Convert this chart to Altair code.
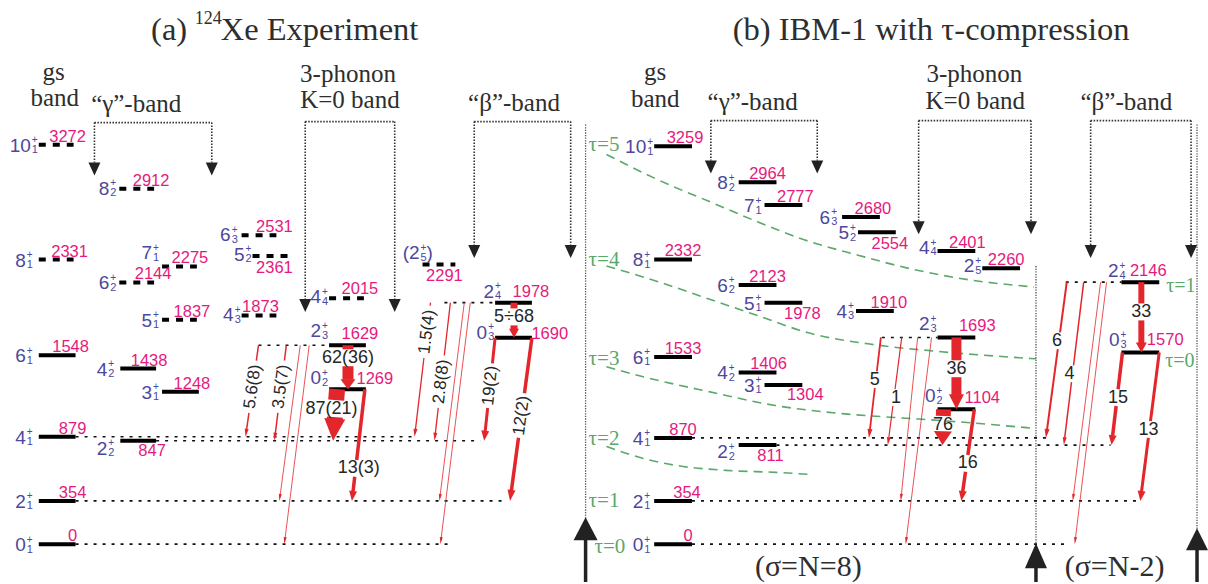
import math
import altair as alt
import pandas as pd

W, H = 1208, 584

# ---------------- level energies (keV) ----------------
level_keys = ["0_1", "2_1", "4_1", "6_1", "8_1", "10_1",
              "2_2", "3_1", "4_2", "5_1", "6_2", "7_1", "8_2",
              "4_3", "5_2", "6_3", "4_4", "2_5",
              "0_2", "2_3", "0_3", "2_4"]
exp_energy = [0, 354, 879, 1548, 2331, 3272,
              847, 1248, 1438, 1837, 2144, 2275, 2912,
              1873, 2361, 2531, 2015, 2291,
              1269, 1629, 1690, 1978]
ibm_energy = [0, 354, 870, 1533, 2332, 3259,
              811, 1304, 1406, 1978, 2123, 2777, 2964,
              1910, 2554, 2680, 2401, 2260,
              1104, 1693, 1570, 2146]
# tentative experimental levels (drawn dashed)
exp_tentative = ["8_1", "10_1", "5_1", "6_2", "7_1", "8_2", "4_3", "5_2", "6_3", "4_4", "2_5"]
exp_bracketed = ["2_5"]

# ---------------- E2 transitions and relative B(E2) values ----------------
trans_from = ["2_3", "0_2", "0_2", "2_3", "2_3", "2_3", "2_3",
              "2_4", "2_4", "2_4", "2_4", "2_4", "0_3", "0_3"]
trans_to = ["0_2", "2_2", "2_1", "4_1", "2_2", "2_1", "0_1",
            "4_1", "2_2", "2_1", "0_1", "0_3", "2_2", "2_1"]
exp_be2 = ["62(36)", "87(21)", "13(3)", "5.6(8)", "3.5(7)", "", "",
           "1.5(4)", "2.8(8)", "", "", "5÷68", "19(2)", "12(2)"]
ibm_be2 = ["36", "76", "16", "5", "1", "", "",
           "6", "4", "", "", "33", "15", "13"]

# ---------------- tau boundaries in the IBM panel (keV) ----------------
tau_names = ["5", "4", "3", "2"]
tau_x = [[610, 663, 713, 763, 813, 863, 913, 963, 1040],
         [610, 663, 713, 763, 813, 880, 947, 1042],
         [610, 647, 713, 780, 847, 900, 947, 1042],
         [610, 647, 680, 730, 780, 815]]
tau_E = [[3192, 2980, 2808, 2637, 2482, 2367, 2261, 2180, 2106],
         [2278, 2147, 2008, 1869, 1731, 1633, 1576, 1518],
         [1453, 1371, 1249, 1135, 1069, 1037, 1012, 947],
         [800, 702, 645, 604, 588, 571]]

# ---------------- layout ----------------
Y0, KPX = 546.0, 0.1225          # pixel row of 0 keV, pixels per keV


def py_of(e):
    return Y0 - KPX * e


def e_of(py):
    return (Y0 - py) / KPX


FS = "Liberation Sans"
FR = "Liberation Serif"
RED = "#e3262b"
BLUE = "#4d479e"
MAG = "#e6197d"
GREEN = "#5aa96b"
INK = "#262626"

# bar start / length, spin-label offset (from bar start), energy-label offset (from bar end)
exp_bar = {"0_1": (39, 37), "2_1": (39, 37), "4_1": (39, 37), "6_1": (39, 37), "8_1": (39, 35),
           "10_1": (39, 35), "2_2": (121, 36), "3_1": (163, 37), "4_2": (121, 36), "5_1": (163, 35),
           "6_2": (120, 35), "7_1": (163, 35), "8_2": (120, 35), "4_3": (243, 35), "5_2": (254, 36),
           "6_3": (243, 35), "4_4": (331, 35), "2_5": (425, 33), "0_2": (331, 37), "2_3": (331, 37),
           "0_3": (498, 37), "2_4": (498, 37)}
exp_spin = {"0_1": (-13, 7), "2_1": (-13, 7), "4_1": (-13, 7), "6_1": (-13, 7), "8_1": (-13, 7),
            "10_1": (-8, 7), "2_2": (-13, 14), "3_1": (-10, 7), "4_2": (-13, 7), "5_1": (-10, 7),
            "6_2": (-10, 7), "7_1": (-10, -7), "8_2": (-10, 6), "4_3": (-8, 6), "5_2": (-8, 5),
            "6_3": (-11, 6), "4_4": (-8, 5), "2_5": (-3, -5), "0_2": (-8, -5), "2_3": (-8, -8),
            "0_3": (-8, 1), "2_4": (-1, -5)}
exp_elab = {"0_1": (-3, -3), "2_1": (-3, -3), "4_1": (-3, -3), "6_1": (-5, -3), "8_1": (-4, -3),
            "10_1": (-6, -3), "2_2": (-4, 15), "3_1": (-7, -3), "4_2": (-7, -3), "5_1": (-5, -3),
            "6_2": (-1, -3), "7_1": (-7, -3), "8_2": (-3, -3), "4_3": (-16, -3), "5_2": (-14, 17),
            "6_3": (-2, -3), "4_4": (-4, -4), "2_5": (-11, 17), "0_2": (9, -5), "2_3": (-6, -6),
            "0_3": (18, 1), "2_4": (-1, -6)}

ibm_bar = {k: (x, 38) for k, x in {
    "0_1": 658, "2_1": 658, "4_1": 658, "6_1": 658, "8_1": 658, "10_1": 658,
    "2_2": 743, "3_1": 769, "4_2": 743, "5_1": 769, "6_2": 743, "7_1": 769, "8_2": 743,
    "4_3": 861, "5_2": 863, "6_3": 847, "4_4": 943, "2_5": 988,
    "0_2": 943, "2_3": 943, "0_3": 1128, "2_4": 1128}.items()}
ibm_spin = {"0_1": (-11, 7), "2_1": (-11, 7), "4_1": (-11, 7), "6_1": (-11, 7), "8_1": (-11, 7),
            "10_1": (-8, 7), "2_2": (-11, 13), "3_1": (-10, 7), "4_2": (-11, 7), "5_1": (-10, 7),
            "6_2": (-11, 7), "7_1": (-10, 7), "8_2": (-11, 7), "4_3": (-9, 7), "5_2": (-9, 7),
            "6_3": (-12, 7), "4_4": (-8, 3), "2_5": (-8, 4), "0_2": (-2, -7), "2_3": (-8, -7),
            "0_3": (-2, -6), "2_4": (-3, -5)}
ibm_elab = {"0_1": (-4, -3), "2_1": (-5, -3), "4_1": (-9, -3), "6_1": (-9, -3), "8_1": (-9, -3),
            "10_1": (-7, -3), "2_2": (-6, 16), "3_1": (3, 15), "4_2": (-8, -3), "5_1": (0, 16),
            "6_2": (-9, -3), "7_1": (-7, -3), "8_2": (-9, -3), "4_3": (-5, -3), "5_2": (-6, 17),
            "6_3": (-7, -3), "4_4": (-8, -3), "2_5": (-14, -3), "0_2": (7, -6), "2_3": (2, -6),
            "0_3": (6, -7), "2_4": (-11, -6)}

# dotted continuations of the lower levels: (level, x from, x to)
exp_ext = [("0_1", 76, 455), ("2_1", 76, 510), ("4_1", 76, 420), ("2_2", 157, 483),
           ("2_3", 260, 331), ("2_4", 447, 498)]
ibm_ext = [("0_1", 696, 1075), ("2_1", 696, 1143), ("4_1", 696, 1053), ("2_2", 781, 1117),
           ("2_3", 887, 943), ("2_4", 1072, 1128)]

# transition geometry: start x, end x, shaft width, head (length, width), label row, label dx, rotated
exp_tx = dict(x0=[350, 339, 367, 260, 288, 302, 311, 433, 453, 467, 473, 517, 498, 535],
              x1=[350, 335, 354, 247, 276, 281, 286, 417, 437, 442, 443, 517, 487, 513],
              w=[11, 16, 3.5, 1.5, 1.5, 0.8, 0.8, 1.3, 1.3, 0.8, 0.8, 7, 3, 3.5],
              head=[(10, 15), (22, 21), (10, 8), (8, 4), (8, 4), (7, 3), (7, 3), (8, 4), (8, 4),
                    (7, 3), (7, 3), (9, 10), (10, 8), (11, 8)],
              ly=[359, 410, 470, 388, 388, None, None, 333, 383, None, None, 318, 387, 417],
              ldx=[0, -4, 3, 0, 0, 0, 0, 0, 0, 0, 0, 0, 0, 0],
              rot=[False, False, False, True, True, False, False, True, True, False, False,
                   False, True, True])
ibm_tx = dict(x0=[962, 949, 980, 886, 907, 923, 937, 1073, 1090, 1107, 1113, 1148, 1129, 1166],
              x1=[962, 948, 967, 874, 893, 906, 911, 1052, 1070, 1079, 1081, 1148, 1118, 1147],
              w=[10, 15, 3.5, 1.8, 1.2, 0.8, 0.8, 2, 1.5, 0.8, 0.8, 6, 3.5, 3],
              head=[(15, 15), (14, 18), (10, 8), (9, 5), (8, 4), (7, 3), (7, 3), (9, 5), (8, 4),
                    (7, 3), (7, 3), (10, 11), (10, 8), (10, 8)],
              ly=[370, 426, 465, 381, 399, None, None, 342, 375, None, None, 313, 399, 431],
              ldx=[0, 0, 1, -1, 2, 0, 0, -2, -3, 0, 0, 0, 1, -1],
              rot=[False] * 14)


def head_path(length, width):
    return f"M{-width / 2:.2f},{-length:.2f}L{width / 2:.2f},{-length:.2f}L0,0Z"


# ---------------- build tables ----------------
lvl_rows, ext_rows, spin_rows, elab_rows = [], [], [], []
for energy, bar, spin, elab, tent, brk, ext in [
        (exp_energy, exp_bar, exp_spin, exp_elab, exp_tentative, exp_bracketed, exp_ext),
        (ibm_energy, ibm_bar, ibm_spin, ibm_elab, [], [], ibm_ext)]:
    E = dict(zip(level_keys, energy))
    for k in level_keys:
        x0, ln = bar[k]
        py = py_of(E[k])
        J, idx = k.split("_")
        lvl_rows.append(dict(x=x0, x2=x0 + ln, y=E[k], y2=E[k],
                             style="dash" if k in tent else "solid"))
        sdx, sdy = spin[k]
        sx, sb = x0 + sdx, py + sdy
        spin_rows.append(dict(x=sx, y=e_of(sb), main=("(" + J) if k in brk else J,
                              xs=sx + 1, ysub=e_of(sb + 1.5), ysup=e_of(sb - 8.5),
                              sub=idx, sup="+", xc=sx + 7, close=")" if k in brk else ""))
        edx, edy = elab[k]
        elab_rows.append(dict(x=x0 + ln + edx, y=e_of(py + edy), t=str(E[k])))
    for k, a, b in ext:
        ext_rows.append(dict(x=a, x2=b, y=E[k], y2=E[k]))

shaft_rows, tip_rows, hlab_rows, rlab_rows = [], [], [], []
for energy, tx, labels in [(exp_energy, exp_tx, exp_be2), (ibm_energy, ibm_tx, ibm_be2)]:
    E = dict(zip(level_keys, energy))
    for i in range(len(trans_from)):
        xa, xb = tx["x0"][i], tx["x1"][i]
        ya, yb = py_of(E[trans_from[i]]), py_of(E[trans_to[i]])
        dx, dy = xb - xa, yb - ya
        L = math.hypot(dx, dy)
        ux, uy = dx / L, dy / L
        hl, hw = tx["head"][i]
        s_end = L - hl + 0.5
        pieces = [(0.0, s_end)]
        if labels[i]:
            t = (tx["ly"][i] - ya) / dy
            sc = t * L
            fs = 17 if tx["rot"][i] else 18
            g = (0.23 * fs * len(labels[i]) + 3) if tx["rot"][i] else 8.5
            pieces = [(0.0, min(sc - g, s_end)), (sc + g, s_end)]
            row = dict(x=xa + t * dx + tx["ldx"][i], y=e_of(tx["ly"][i]), t=labels[i],
                       ang=math.degrees(math.atan2(-uy, -ux)) % 360)
            (rlab_rows if tx["rot"][i] else hlab_rows).append(row)
        for a, b in pieces:
            if b - a > 0.5:
                shaft_rows.append(dict(x=xa + ux * a, y=e_of(ya + uy * a),
                                       x2=xa + ux * b, y2=e_of(ya + uy * b), w=tx["w"][i]))
        tip_rows.append(dict(x=xb, y=E[trans_to[i]], path=head_path(hl, hw),
                             ang=math.degrees(math.atan2(-ux, uy)) % 360, col=RED))

tau_rows = []
for name, xs_, es_ in zip(tau_names, tau_x, tau_E):
    for j, (xv, ev) in enumerate(zip(xs_, es_)):
        tau_rows.append(dict(c=name, i=j, x=xv, y=ev))

# band brackets: top y, left x, right x, arrow tip y
brackets = [(123, 95, 213, 176), (122, 307, 397, 313), (122, 477, 574, 259),
            (121, 715, 822, 174), (121, 924, 1037, 235), (121, 1097, 1198, 259)]
brk_rows = []
for top, xl, xr, tip in brackets:
    base = tip - 13
    brk_rows += [dict(x=xl, y=e_of(top), x2=xr, y2=e_of(top)),
                 dict(x=xl, y=e_of(top), x2=xl, y2=e_of(base)),
                 dict(x=xr, y=e_of(top), x2=xr, y2=e_of(base))]
    for xv in (xl, xr):
        tip_rows.append(dict(x=xv, y=e_of(tip), path=head_path(13, 12), ang=0, col="#222222"))

# sigma frames of the IBM panel: x, top of dotted line, arrow tip, head length, head width
frames = [(589, 125, 519, 23, 24), (1042, 267, 545, 25, 22), (1204, 125, 530, 22, 22)]
frame_rows, post_rows = [], []
for xv, top, tip, hl, hw in frames:
    frame_rows.append(dict(x=xv, y=e_of(top), x2=xv, y2=e_of(tip + 4)))
    post_rows.append(dict(x=xv, y=e_of(tip + hl - 1), x2=xv, y2=e_of(H)))
    tip_rows.append(dict(x=xv, y=e_of(tip), path=head_path(hl, hw), ang=180, col="#222222"))

# ---------------- text annotations (pixel placement) ----------------
headers = [("gs", 54, 80), ("band", 55, 106), ("“γ”-band", 137, 112), ("3-phonon", 350, 82),
           ("K=0 band", 352, 108), ("“β”-band", 517, 111),
           ("gs", 659, 80), ("band", 659, 107), ("“γ”-band", 757, 110), ("3-phonon", 980, 82),
           ("K=0 band", 981, 109), ("“β”-band", 1133, 110)]
tau_left = [("τ=5", 623, 152), ("τ=4", 623, 267), ("τ=3", 623, 366), ("τ=2", 623, 447),
            ("τ=1", 623, 509), ("τ=0", 629, 555)]
tau_right = [("τ=1", 1173, 293), ("τ=0", 1172, 368)]
sigma_lbl = [("(σ=N=8)", 813, 578), ("(σ=N-2)", 1121, 578)]

xs = alt.Scale(domain=[0, W], nice=False, zero=False)
ys = alt.Scale(domain=[e_of(H), e_of(0)], nice=False, zero=False)


def X(f="x"):
    return alt.X(f"{f}:Q", scale=xs, axis=None)


def Y(f="y"):
    return alt.Y(f"{f}:Q", scale=ys, axis=None)


def seg_layer(rows, **mark):
    return alt.Chart(pd.DataFrame(rows)).mark_rule(**mark).encode(
        x=X(), y=Y(), x2=alt.X2("x2:Q"), y2=alt.Y2("y2:Q"))


def text_layer(rows, xf="x", yf="y", tf="t", **mark):
    return alt.Chart(pd.DataFrame(rows)).mark_text(**mark).encode(
        x=X(xf), y=Y(yf), text=alt.Text(f"{tf}:N"))


def pix_text(items, **mark):
    rows = [dict(t=t, x=x, y=e_of(y)) for t, x, y in items]
    return text_layer(rows, baseline="alphabetic", **mark)


layers = []

# tau boundaries
layers.append(alt.Chart(pd.DataFrame(tau_rows)).mark_line(
    color=GREEN, strokeWidth=1.6, strokeDash=[9, 6], interpolate="monotone").encode(
    x=X(), y=Y(), detail="c:N", order="i:Q"))

# frames and brackets
layers.append(seg_layer(frame_rows, color="#555555", strokeWidth=1.3, strokeDash=[1.3, 1.3]))
layers.append(seg_layer(post_rows, color="#222222", strokeWidth=3.5))
layers.append(seg_layer(brk_rows, color="#333333", strokeWidth=1.6, strokeDash=[1.5, 1.5]))

# levels
layers.append(seg_layer(ext_rows, color="#111111", strokeWidth=1.6, strokeDash=[3, 6]))
layers.append(seg_layer([r for r in lvl_rows if r["style"] == "solid"],
                        color="#000000", strokeWidth=4))
layers.append(seg_layer([r for r in lvl_rows if r["style"] == "dash"],
                        color="#000000", strokeWidth=4, strokeDash=[7, 7]))

# transitions
layers.append(alt.Chart(pd.DataFrame(shaft_rows)).mark_rule(color=RED).encode(
    x=X(), y=Y(), x2=alt.X2("x2:Q"), y2=alt.Y2("y2:Q"),
    strokeWidth=alt.StrokeWidth("w:Q", scale=None)))
layers.append(alt.Chart(pd.DataFrame(tip_rows)).mark_point(
    filled=True, opacity=1, strokeWidth=0, size=4).encode(
    x=X(), y=Y(), shape=alt.Shape("path:N", scale=None),
    angle=alt.Angle("ang:Q", scale=None), color=alt.Color("col:N", scale=None)))

# level labels
layers.append(text_layer(spin_rows, tf="main", font=FS, fontSize=19, color=BLUE,
                         align="right", baseline="alphabetic"))
layers.append(text_layer(spin_rows, xf="xs", yf="ysub", tf="sub", font=FS, fontSize=11,
                         color=BLUE, align="left", baseline="alphabetic"))
layers.append(text_layer(spin_rows, xf="xs", yf="ysup", tf="sup", font=FS, fontSize=10,
                         color=BLUE, align="left", baseline="alphabetic"))
layers.append(text_layer([r for r in spin_rows if r["close"]], xf="xc", tf="close", font=FS,
                         fontSize=19, color=BLUE, align="left", baseline="alphabetic"))
layers.append(text_layer(elab_rows, font=FS, fontSize=16.5, color=MAG, align="center",
                         baseline="alphabetic"))

# B(E2) labels
layers.append(text_layer(hlab_rows, font=FS, fontSize=18, color=INK, align="center",
                         baseline="middle"))
layers.append(alt.Chart(pd.DataFrame(rlab_rows)).mark_text(
    font=FS, fontSize=17, color=INK, align="center", baseline="middle").encode(
    x=X(), y=Y(), text="t:N", angle=alt.Angle("ang:Q", scale=None)))

# headers, titles, tau and sigma labels
layers.append(pix_text(headers, font=FR, fontSize=25, color="#2e2e2e", align="center"))
layers.append(pix_text(tau_left, font=FR, fontSize=21, color=GREEN, align="right"))
layers.append(pix_text(tau_right, font=FR, fontSize=20, color=GREEN, align="left"))
layers.append(pix_text(sigma_lbl, font=FR, fontSize=30, color="#2e2e2e", align="center"))
layers.append(pix_text([("(a)", 152, 40), ("Xe Experiment", 222, 40),
                        ("(b) IBM-1 with τ-compression", 737, 40)],
                       font=FR, fontSize=32.5, color="#2e2e2e", align="left"))
layers.append(pix_text([("124", 196, 24)], font=FR, fontSize=18, color="#2e2e2e", align="left"))

chart = alt.layer(*layers).properties(
    width=W, height=H, padding=0,
    autosize=alt.AutoSizeParams(type="fit", contains="padding"),
    background="white",
).configure_view(strokeWidth=0)

chart.save("out.html", embed_options={"renderer": "svg", "actions": False})
